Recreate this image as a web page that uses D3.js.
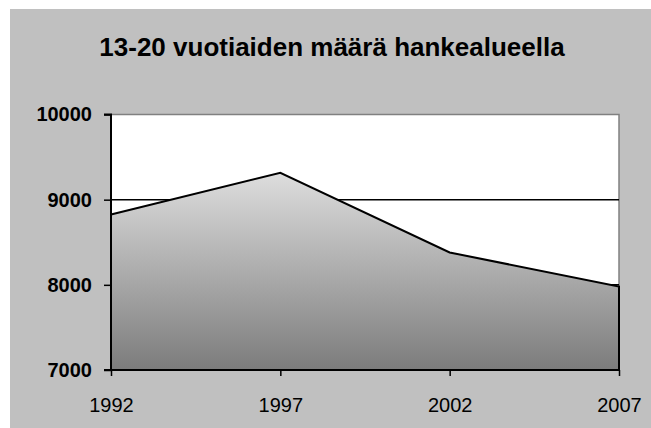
<!DOCTYPE html>
<html>
<head>
<meta charset="utf-8">
<script src="https://cdn.jsdelivr.net/npm/d3@7"></script>
<style>
  body { margin: 0; background: #fff; }
  svg { display: block; font-family: "Liberation Sans", Arial, sans-serif; }
</style>
</head>
<body>
<svg id="chart" width="651" height="428"></svg>
<script>
var years = ["1992", "1997", "2002", "2007"];
var counts = [8825, 9315, 8380, 7980];
var yTicks = [7000, 8000, 9000, 10000];
var title = "13-20 vuotiaiden määrä hankealueella";

var margin = {top: 114.5, left: 111, right: 32, bottom: 58};
var width = 651, height = 428;

var svg = d3.select("#chart");

// gray chart background
svg.append("rect")
  .attr("x", 10).attr("y", 9)
  .attr("width", width - 10).attr("height", height - 9)
  .attr("fill", "#c0c0c0");

svg.append("text")
  .attr("x", 332).attr("y", 56)
  .attr("text-anchor", "middle")
  .attr("font-size", 26)
  .attr("font-weight", "bold")
  .text(title);

var x = d3.scalePoint().domain(years).range([margin.left, width - margin.right]);
var y = d3.scaleLinear().domain([7000, 10000]).range([height - margin.bottom, margin.top]);

// plot area
svg.append("rect")
  .attr("x", margin.left).attr("y", margin.top)
  .attr("width", x.range()[1] - margin.left)
  .attr("height", y(7000) - margin.top)
  .attr("fill", "#fff")
  .attr("stroke", "#808080")
  .attr("stroke-width", 1.5);

var grad = svg.append("defs").append("linearGradient")
  .attr("id", "areaGrad")
  .attr("x1", 0).attr("y1", 0).attr("x2", 0).attr("y2", 1);
grad.append("stop").attr("offset", "0%").attr("stop-color", "#dddddd");
grad.append("stop").attr("offset", "100%").attr("stop-color", "#7c7c7c");

var data = years.map((yr, i) => ({year: yr, value: counts[i]}));

// gridlines
svg.append("g")
  .selectAll("line")
  .data(yTicks.filter(t => t > 7000 && t < 10000))
  .join("line")
    .attr("x1", margin.left).attr("x2", x.range()[1])
    .attr("y1", d => y(d)).attr("y2", d => y(d))
    .attr("stroke", "#000").attr("stroke-width", 1.5);

var area = d3.area()
  .x(d => x(d.year))
  .y0(y(7000))
  .y1(d => y(d.value));

svg.append("path")
  .datum(data)
  .attr("d", area)
  .attr("fill", "url(#areaGrad)")
  .attr("stroke", "#000")
  .attr("stroke-width", 2)
  .attr("stroke-linejoin", "miter");

// y axis
var yAxis = svg.append("g")
  .attr("transform", `translate(${margin.left},0)`)
  .call(d3.axisLeft(y).tickValues(yTicks).tickFormat(d3.format("d")).tickSize(7).tickPadding(12));
yAxis.select(".domain").attr("stroke", "#000").attr("stroke-width", 2).attr("d", `M-7,${y(10000)}H0V${y(7000)}H-7`);
yAxis.selectAll(".tick line").attr("stroke-width", 1.5);
yAxis.selectAll("text")
  .attr("font-family", "'Liberation Sans', Arial, sans-serif")
  .attr("font-size", 20).attr("font-weight", "bold").attr("fill", "#000");

// x axis
var xAxis = svg.append("g")
  .attr("transform", `translate(0,${y(7000)})`)
  .call(d3.axisBottom(x).tickSize(6).tickPadding(22));
xAxis.select(".domain").attr("stroke", "#000").attr("stroke-width", 2).attr("d", `M${margin.left},0H${x.range()[1]}`);
xAxis.selectAll(".tick line").attr("stroke-width", 1.5);
xAxis.selectAll("text")
  .attr("font-family", "'Liberation Sans', Arial, sans-serif")
  .attr("font-size", 20).attr("fill", "#000");
</script>
</body>
</html>
